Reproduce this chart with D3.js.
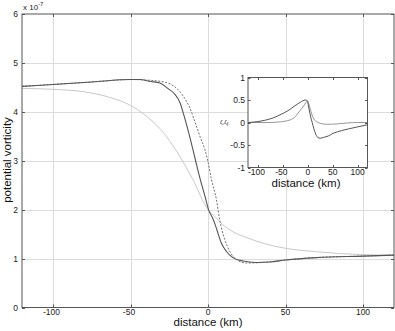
<!DOCTYPE html>
<html>
<head>
<meta charset="utf-8">
<script src="https://cdn.jsdelivr.net/npm/d3@7/dist/d3.min.js"></script>
<style>
  html, body { margin: 0; padding: 0; background: #fff; }
  svg { display: block; font-family: "Liberation Sans", Arial, sans-serif; }
</style>
</head>
<body>
<svg id="chart" width="395" height="331"></svg>
<script>
// Main panel: potential vorticity (x 1e-7) against cross-front distance (km)
const pvSolidKm = [-120, -100, -75, -50, -44, -37, -31, -26, -22, -18, -16, -12, -8, -5, -2, 0.6, 3.4, 5.6, 8.6, 11.8, 16, 22.6, 31, 40, 50, 70, 100, 120];
const pvSolid   = [4.52, 4.56, 4.61, 4.66, 4.66, 4.62, 4.59, 4.48, 4.38, 4.18, 3.98, 3.52, 3.00, 2.62, 2.28, 1.98, 1.80, 1.60, 1.32, 1.15, 1.02, 0.95, 0.92, 0.93, 0.97, 1.02, 1.05, 1.07];

const pvDashKm  = [-120, -100, -75, -50, -40, -27, -16, -12, -7.5, -5, -2, 0, 2.2, 5.4, 7.5, 10.8, 14, 18.3, 24.7, 35, 50, 70, 100, 120];
const pvDash    = [4.52, 4.56, 4.61, 4.66, 4.65, 4.60, 4.32, 4.10, 3.71, 3.48, 3.23, 2.98, 2.62, 2.21, 1.80, 1.39, 1.15, 0.98, 0.91, 0.92, 0.97, 1.02, 1.05, 1.07];

const pvLightKm = [-120, -100, -80, -65, -50, -40, -30, -20, -10, 0, 5, 9, 16, 25, 37, 50, 70, 100, 120];
const pvLight   = [4.48, 4.46, 4.41, 4.31, 4.13, 3.92, 3.62, 3.18, 2.63, 2.00, 1.84, 1.71, 1.55, 1.43, 1.30, 1.21, 1.14, 1.08, 1.07];

const mainXTicks = [-100, -50, 0, 50, 100];
const mainYTicks = [0, 1, 2, 3, 4, 5, 6];

// Inset panel: relative vorticity profiles
const zetaKm = [-120, -100, -86, -70, -52, -40, -26, -15, -5, -2, 0, 3, 6, 9, 12, 16, 20, 25, 32, 41, 51, 68, 95, 120];
const zeta   = [0, 0.02, 0.05, 0.10, 0.19, 0.26, 0.37, 0.45, 0.50, 0.49, 0.44, 0.28, 0.12, 0.0, -0.13, -0.26, -0.33, -0.35, -0.33, -0.30, -0.24, -0.18, -0.11, -0.05];

const zetaFKm = [-120, -80, -60, -45, -35, -25, -21, -15, -8, -4, 0, 2, 5, 8, 12, 18, 25, 40, 60, 80, 100, 120];
const zetaF   = [0, 0, 0.01, 0.03, 0.06, 0.13, 0.19, 0.27, 0.37, 0.44, 0.48, 0.42, 0.30, 0.19, 0.08, 0.02, -0.02, -0.04, -0.03, -0.01, 0, 0];

const insetXTicks = [-100, -50, 0, 50, 100];
const insetYTicks = [-1, -0.5, 0, 0.5, 1];

const svg = d3.select("#chart");
const fmt = d => String(d);

// ---------- main panel ----------
const x = d3.scaleLinear().domain([-120, 120]).range([22, 394]);
const y = d3.scaleLinear().domain([0, 6]).range([307.5, 14]);

const grid = svg.append("g").attr("stroke", "#dcdcdc").attr("stroke-width", 1);
mainXTicks.forEach(t => grid.append("line")
  .attr("x1", Math.round(x(t)) + 0.5).attr("x2", Math.round(x(t)) + 0.5)
  .attr("y1", y(6)).attr("y2", y(0)));
mainYTicks.slice(1, -1).forEach(t => grid.append("line")
  .attr("x1", x(-120)).attr("x2", x(120))
  .attr("y1", Math.round(y(t)) + 0.5).attr("y2", Math.round(y(t)) + 0.5));

function drawAxes(g, xs, ys, xt, yt, tickLen) {
  const [x0, x1] = xs.range();
  const [y0, y1] = ys.range();
  const ax = g.append("g").attr("stroke", "#555").attr("fill", "none");
  ax.append("rect").attr("x", x0).attr("y", y1).attr("width", x1 - x0).attr("height", y0 - y1)
    .attr("stroke-width", 1);
  xt.forEach(t => {
    const px = Math.round(xs(t)) + 0.5;
    ax.append("line").attr("x1", px).attr("x2", px).attr("y1", y0).attr("y2", y0 - tickLen);
    ax.append("line").attr("x1", px).attr("x2", px).attr("y1", y1).attr("y2", y1 + tickLen);
  });
  yt.forEach(t => {
    const py = Math.round(ys(t)) + 0.5;
    ax.append("line").attr("x1", x0).attr("x2", x0 + tickLen).attr("y1", py).attr("y2", py);
    ax.append("line").attr("x1", x1).attr("x2", x1 - tickLen).attr("y1", py).attr("y2", py);
  });
}

function line(xs, ys, kx, vy) {
  return d3.line().x((d, i) => xs(kx[i])).y((d, i) => ys(vy[i])).curve(d3.curveMonotoneX)(kx);
}

svg.append("path").attr("d", line(x, y, pvLightKm, pvLight))
  .attr("fill", "none").attr("stroke", "#c8c8c8").attr("stroke-width", 1);
svg.append("path").attr("d", line(x, y, pvDashKm, pvDash))
  .attr("fill", "none").attr("stroke", "#707070").attr("stroke-width", 1).attr("stroke-dasharray", "2,1.5");
svg.append("path").attr("d", line(x, y, pvSolidKm, pvSolid))
  .attr("fill", "none").attr("stroke", "#555").attr("stroke-width", 1.1);

drawAxes(svg, x, y, mainXTicks, mainYTicks, 3);

svg.append("g").selectAll("text").data(mainXTicks).join("text")
  .attr("x", d => x(d) - (d < 0 ? 1.5 : 0)).attr("y", 315)
  .attr("text-anchor", "middle").attr("font-size", 8.5).attr("fill", "#222").text(fmt);
svg.append("g").selectAll("text").data(mainYTicks).join("text")
  .attr("x", 18).attr("y", d => y(d) + 3)
  .attr("text-anchor", "end").attr("font-size", 8.5).attr("fill", "#222").text(fmt);

const expo = svg.append("text").attr("x", 23).attr("y", 10).attr("font-size", 8).attr("fill", "#222");
expo.append("tspan").text("x 10");
expo.append("tspan").attr("dy", -4).attr("font-size", 6).text("-7");

svg.append("text").attr("x", 208).attr("y", 326).attr("text-anchor", "middle")
  .attr("font-size", 11.5).attr("fill", "#111").text("distance (km)");
svg.append("text").attr("transform", "translate(11,160) rotate(-90)").attr("text-anchor", "middle")
  .attr("font-size", 11.5).attr("fill", "#111").text("potential vorticity");

// ---------- inset panel ----------
const ix = d3.scaleLinear().domain([-120, 120]).range([248, 367.5]);
const iy = d3.scaleLinear().domain([-1, 1]).range([167.5, 77.5]);

svg.append("rect").attr("x", 248).attr("y", 77.5).attr("width", 119.5).attr("height", 90).attr("fill", "#fff");

svg.append("path").attr("d", line(ix, iy, zetaFKm, zetaF))
  .attr("fill", "none").attr("stroke", "#8a8a8a").attr("stroke-width", 0.9);
svg.append("path").attr("d", line(ix, iy, zetaKm, zeta))
  .attr("fill", "none").attr("stroke", "#555").attr("stroke-width", 1);

drawAxes(svg, ix, iy, insetXTicks, insetYTicks, 2.5);

svg.append("g").selectAll("text").data(insetXTicks).join("text")
  .attr("x", d => ix(d) - (d < 0 ? 1.5 : 0)).attr("y", 175)
  .attr("text-anchor", "middle").attr("font-size", 8.5).attr("fill", "#222").text(fmt);
svg.append("g").selectAll("text").data(insetYTicks).join("text")
  .attr("x", 245).attr("y", d => iy(d) + 3)
  .attr("text-anchor", "end").attr("font-size", 8.5).attr("fill", "#222").text(fmt);

svg.append("text").attr("x", 306).attr("y", 187).attr("text-anchor", "middle")
  .attr("font-size", 11.5).attr("fill", "#111").text("distance (km)");

const zl = svg.append("text").attr("x", 220).attr("y", 124).attr("font-size", 6).attr("fill", "#222");
zl.append("tspan").text("ζ,ζ");
zl.append("tspan").attr("dy", 1.5).attr("font-size", 4.5).text("f");
</script>
</body>
</html>
